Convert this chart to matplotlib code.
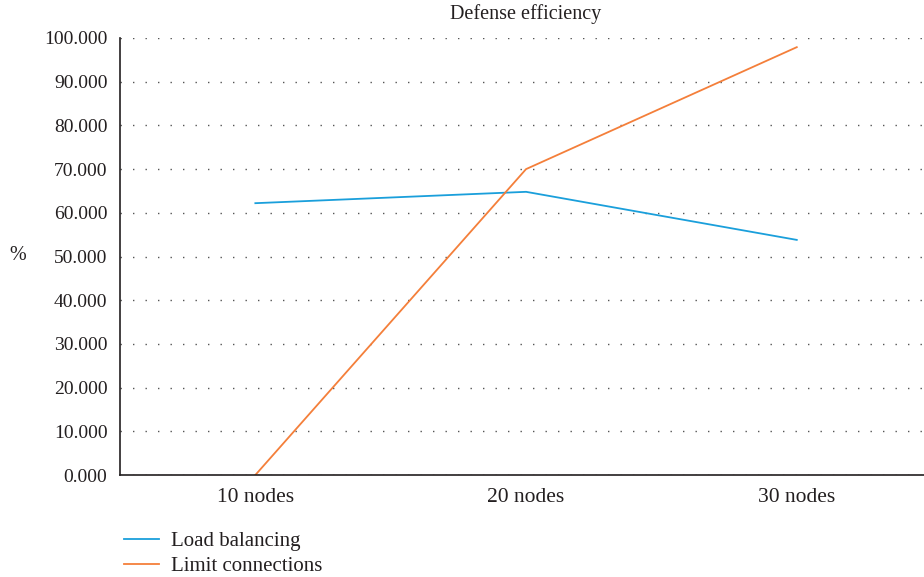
import matplotlib
matplotlib.use("Agg")
import matplotlib.pyplot as plt
from matplotlib.lines import Line2D

categories = ["10 nodes", "20 nodes", "30 nodes"]
load_balancing = [62.2, 64.8, 53.8]
limit_connections = [0.0, 70.0, 97.9]
yticks = [0, 10, 20, 30, 40, 50, 60, 70, 80, 90, 100]

plt.rcParams['font.family'] = ['Liberation Serif', 'DejaVu Serif']
fs = 14.5

fig = plt.figure(figsize=(9.24, 5.77), dpi=100)
ax = fig.add_axes([120/924, 1 - 475/577, (924-120)/924, (475-38)/577])

x = list(range(len(categories)))
ax.plot(x, load_balancing, color='#1a9fdb', lw=1.3, label='Load balancing')
ax.plot(x, limit_connections, color='#f47f3a', lw=1.3, label='Limit connections')

ax.set_xlim(-0.5, 2.47)
ax.set_ylim(0, 100)
ax.set_yticks(yticks)
ax.set_yticklabels([f"{v:.3f}" for v in yticks], fontsize=14, color='#231f20')
ax.set_xticks(x)
ax.set_xticklabels(categories, fontsize=15.5, color='#231f20')
ax.tick_params(length=0, pad=9)
ax.tick_params(axis='x', pad=9)
ax.yaxis.grid(True, linestyle=(0, (1, 8)), color='#555555', lw=1.0)
ax.set_axisbelow(True)
for s in ['top', 'right']:
    ax.spines[s].set_visible(False)
for s in ['left', 'bottom']:
    ax.spines[s].set_color('#231f20')
    ax.spines[s].set_linewidth(1.2)

fig.text(526/924, 1 - 14/577, "Defense efficiency", ha='center', va='center', fontsize=fs, color='#231f20')
fig.text(18/924, 1 - 256/577, "%", ha='center', va='center', fontsize=fs, color='#231f20')

handles = [Line2D([], [], color='#1a9fdb', lw=1.3), Line2D([], [], color='#f47f3a', lw=1.3)]
fig.legend(handles, ['Load balancing', 'Limit connections'], loc='upper left',
           bbox_to_anchor=(105/924, 1 - 513/577), frameon=False, fontsize=15,
           handlelength=1.7, handletextpad=0.55, labelspacing=0.25, labelcolor='#231f20')

fig.savefig("out.png", dpi=100)
